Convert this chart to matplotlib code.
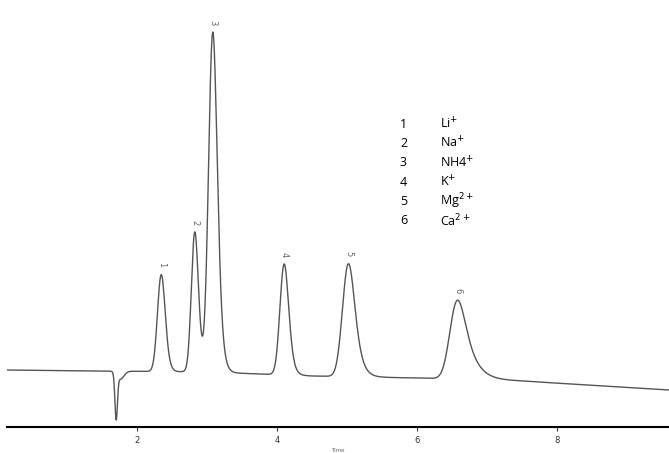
import numpy as np
import matplotlib.pyplot as plt
from math import erfc

# peak data (retention time [min], height, sigma, tail tau)
peak_labels = ["1", "2", "3", "4", "5", "6"]
peak_times = [2.32, 2.80, 3.05, 4.07, 4.97, 6.50]
peak_heights = [97, 140, 340, 111, 113, 79]
peak_sigmas = [0.05, 0.045, 0.055, 0.055, 0.075, 0.09]
peak_taus = [0.03, 0.03, 0.04, 0.04, 0.07, 0.14]
ions = ["Li$^{+}$", "Na$^{+}$", "NH4$^{+}$", "K$^{+}$", "Mg$^{2+}$", "Ca$^{2+}$"]
baseline_t = [0.14, 1.5, 3.0, 4.5, 6.0, 7.5, 9.6]
baseline_y = [57, 56, 55, 51, 49, 46, 37]
dip_time, dip_depth = 1.70, 45

t = np.linspace(0.14, 9.6, 4000)
y = np.interp(t, baseline_t, baseline_y)
verf = np.vectorize(erfc)
def emg(t, mu, s, tau):
    z = (s / tau - (t - mu) / s) / np.sqrt(2)
    g = np.exp(0.5 * (s / tau) ** 2 - (t - mu) / tau) * verf(z)
    return np.nan_to_num(g)
for h, mu, s, tau in zip(peak_heights, peak_times, peak_sigmas, peak_taus):
    g = emg(t, mu, s, tau)
    y += h * g / g.max()
y -= dip_depth * np.exp(-0.5 * ((t - dip_time) / 0.018) ** 2)
y -= 8 * np.exp(-0.5 * ((t - 1.76) / 0.05) ** 2)

fig = plt.figure(figsize=(6.69, 4.53), dpi=100)
ax = fig.add_axes([7 / 669, 26 / 453, 662 / 669, 427 / 453])
ax.plot(t, y, color="#555555", lw=1.0)
ax.set_xlim(0.14, 9.6)
ax.set_ylim(0, 427)
for lab, mu in zip(peak_labels, peak_times):
    m = np.abs(t - (mu + 0.04)) < 0.1
    i = np.argmax(np.where(m, y, -1e9))
    ax.text(t[i], y[i] + 7, lab, rotation=270, fontsize=6,
            color="#666666", ha="center", va="bottom")
for sp in ["top", "right", "left"]:
    ax.spines[sp].set_visible(False)
ax.spines["bottom"].set_linewidth(1.5)
ax.set_yticks([])
ax.set_xticks([2, 4, 6, 8])
ax.tick_params(axis="x", labelsize=6, length=3, colors="#333333")
ax.set_xlabel("Time", fontsize=4, color="#666666", labelpad=2)
for i, (lab, ion) in enumerate(zip(peak_labels, ions)):
    yy = 1 - (124 + 19.4 * i) / 427
    ax.text(393 / 662, yy, lab, transform=ax.transAxes, fontsize=9,
            family="Open Sans", va="center")
    ax.text(433 / 662, yy, ion, transform=ax.transAxes, fontsize=9,
            family="Open Sans", va="center")
fig.savefig("out.png", dpi=100)
